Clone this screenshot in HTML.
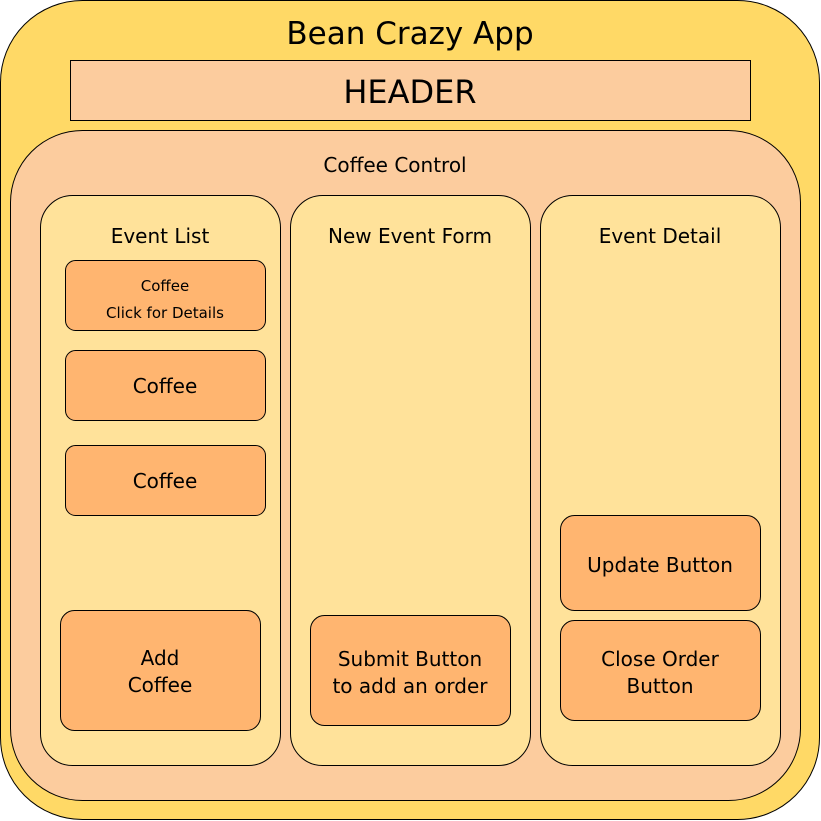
<!DOCTYPE html>
<html><head><meta charset="utf-8"><style>body{margin:0;background:#fff}svg{display:block}text{font-family:"Comic Sans MS","DejaVu Sans","Liberation Sans",sans-serif;fill:#000;text-anchor:middle}</style></head>
<body>
<svg width="821" height="821" viewBox="0 0 821 821" xmlns="http://www.w3.org/2000/svg">
<rect x="0.5" y="0.5" width="819" height="819" rx="82" fill="#FFD966" stroke="#000"/>
<text x="410" y="44" font-size="31">Bean Crazy App</text>
<rect x="70.5" y="60.5" width="680" height="60" fill="#FCCC9E" stroke="#000"/>
<text x="410" y="103" font-size="32">HEADER</text>
<rect x="10.5" y="130.5" width="790" height="670" rx="72" fill="#FCCC9E" stroke="#000"/>
<text x="395" y="172" font-size="20">Coffee Control</text>
<g fill="#FFE29A" stroke="#000">
<rect x="40.5" y="195.5" width="240" height="570" rx="32"/>
<rect x="290.5" y="195.5" width="240" height="570" rx="32"/>
<rect x="540.5" y="195.5" width="240" height="570" rx="32"/>
</g>
<text x="160" y="243" font-size="20">Event List</text>
<text x="410" y="243" font-size="20">New Event Form</text>
<text x="660" y="243" font-size="20">Event Detail</text>
<g fill="#FFB570" stroke="#000">
<rect x="65.5" y="260.5" width="200" height="70" rx="10"/>
<rect x="65.5" y="350.5" width="200" height="70" rx="10"/>
<rect x="65.5" y="445.5" width="200" height="70" rx="10"/>
<rect x="60.5" y="610.5" width="200" height="120" rx="14"/>
<rect x="310.5" y="615.5" width="200" height="110" rx="14"/>
<rect x="560.5" y="515.5" width="200" height="95" rx="14"/>
<rect x="560.5" y="620.5" width="200" height="100" rx="14"/>
</g>
<text x="165" y="291" font-size="15">Coffee</text>
<text x="165" y="318" font-size="15">Click for Details</text>
<text x="165" y="393" font-size="20">Coffee</text>
<text x="165" y="488" font-size="20">Coffee</text>
<text x="160" y="665" font-size="20">Add</text>
<text x="160" y="692" font-size="20">Coffee</text>
<text x="410" y="666" font-size="20">Submit Button</text>
<text x="410" y="693" font-size="20">to add an order</text>
<text x="660" y="572" font-size="20">Update Button</text>
<text x="660" y="666" font-size="20">Close Order</text>
<text x="660" y="693" font-size="20">Button</text>
</svg>
</body></html>
